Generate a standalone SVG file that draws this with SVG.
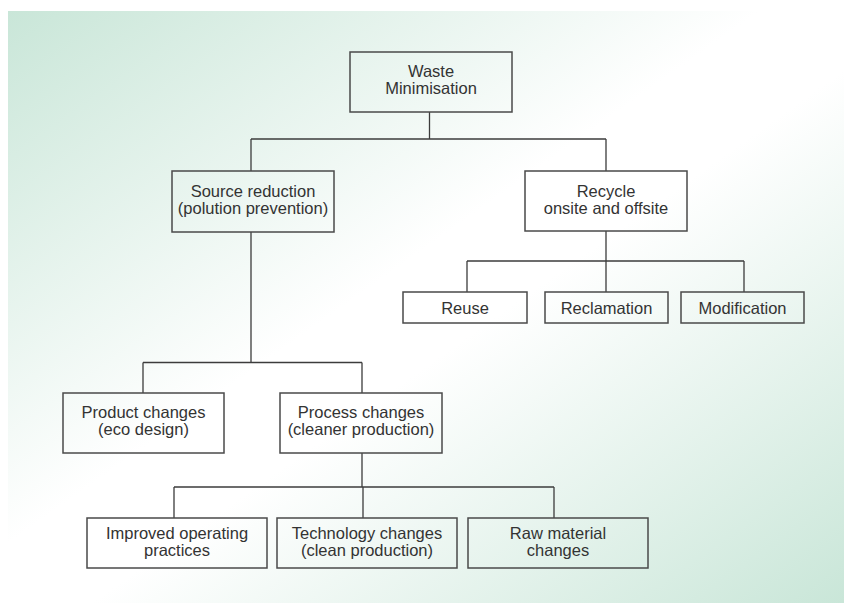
<svg xmlns="http://www.w3.org/2000/svg" width="844" height="603" viewBox="0 0 844 603">
  <defs>
    <linearGradient id="bg" x1="0" y1="0" x2="1" y2="1">
      <stop offset="0" stop-color="#c9e6d8"/>
      <stop offset="0.45" stop-color="#ffffff"/>
      <stop offset="0.55" stop-color="#ffffff"/>
      <stop offset="1" stop-color="#c9e6d8"/>
    </linearGradient>
    <style>
      .box { fill: none; stroke: #4a4a4a; stroke-width: 1.5; }
      .lbl { font-family: "Liberation Sans", Arial, sans-serif; font-size: 16.5px; fill: #333333; text-anchor: middle; }
      .wire { fill: none; stroke: #3c3c3c; stroke-width: 1.3; }
    </style>
  </defs>

  <rect x="0" y="0" width="844" height="603" fill="#ffffff"/>
  <rect x="8" y="11" width="836" height="592" fill="url(#bg)"/>

  <g id="connectors">
    <!-- Waste Minimisation to its two branches -->
    <path class="wire" d="M429.5 112 V139 M251 139 H606 M251 139 V171 M606 139 V171"/>
    <!-- Source reduction branch -->
    <path class="wire" d="M251 232 V362.5 M143 362.5 H362 M143 362.5 V393 M362 362.5 V393"/>
    <!-- Process changes branch -->
    <path class="wire" d="M362 453 V487 M174 487 H554 M174 487 V518 M363 487 V518 M554 487 V518"/>
    <!-- Recycle branch -->
    <path class="wire" d="M606 231 V261 M467 261 H744 M467 261 V292 M606 261 V292 M744 261 V292"/>
  </g>

  <g id="waste-minimisation">
    <rect class="box" x="350" y="52" width="162" height="60"/>
    <text class="lbl" x="431" y="77">Waste</text>
    <text class="lbl" x="431" y="94">Minimisation</text>
  </g>

  <g id="source-reduction">
    <rect class="box" x="172" y="171" width="162" height="61"/>
    <text class="lbl" x="253" y="197">Source reduction</text>
    <text class="lbl" x="253" y="214">(polution prevention)</text>
  </g>

  <g id="recycle">
    <rect class="box" x="525" y="171" width="162" height="60"/>
    <text class="lbl" x="606" y="197">Recycle</text>
    <text class="lbl" x="606" y="214">onsite and offsite</text>
  </g>

  <g id="reuse">
    <rect class="box" x="403" y="292" width="124" height="31"/>
    <text class="lbl" x="465" y="313.5">Reuse</text>
  </g>

  <g id="reclamation">
    <rect class="box" x="545" y="292" width="123" height="31"/>
    <text class="lbl" x="606.5" y="313.5">Reclamation</text>
  </g>

  <g id="modification">
    <rect class="box" x="681" y="292" width="123" height="31"/>
    <text class="lbl" x="742.5" y="313.5">Modification</text>
  </g>

  <g id="product-changes">
    <rect class="box" x="63" y="393" width="161" height="60"/>
    <text class="lbl" x="143.5" y="418">Product changes</text>
    <text class="lbl" x="143.5" y="435">(eco design)</text>
  </g>

  <g id="process-changes">
    <rect class="box" x="280" y="393" width="162" height="60"/>
    <text class="lbl" x="361" y="418">Process changes</text>
    <text class="lbl" x="361" y="435">(cleaner production)</text>
  </g>

  <g id="improved-operating-practices">
    <rect class="box" x="87" y="518" width="180" height="50"/>
    <text class="lbl" x="177" y="538.5">Improved operating</text>
    <text class="lbl" x="177" y="555.5">practices</text>
  </g>

  <g id="technology-changes">
    <rect class="box" x="277" y="518" width="180" height="50"/>
    <text class="lbl" x="367" y="538.5">Technology changes</text>
    <text class="lbl" x="367" y="555.5">(clean production)</text>
  </g>

  <g id="raw-material-changes">
    <rect class="box" x="468" y="518" width="180" height="50"/>
    <text class="lbl" x="558" y="538.5">Raw material</text>
    <text class="lbl" x="558" y="555.5">changes</text>
  </g>
</svg>
